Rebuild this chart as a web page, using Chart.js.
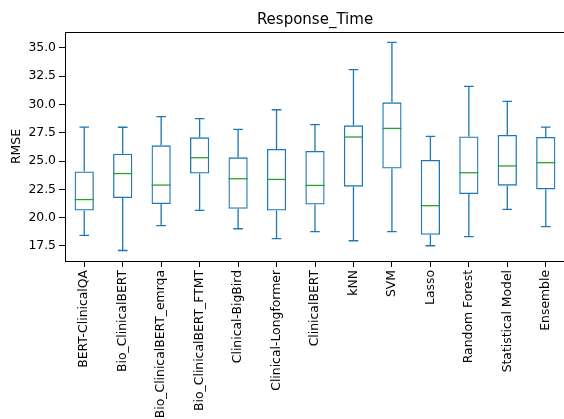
<!DOCTYPE html>
<html>
<head>
<meta charset="utf-8">
<script src="https://cdn.jsdelivr.net/npm/chart.js@4"></script>
<style>
  html, body { margin: 0; padding: 0; background: #fff; overflow: hidden; }
  #wrap { width: 580px; height: 419px; }
</style>
</head>
<body>
<div id="wrap"><canvas id="boxChart" width="580" height="419"></canvas></div>
<script>
// ====================================
// DATA
// ====================================
const categories = [
  "BERT-ClinicalQA", "Bio_ClinicalBERT", "Bio_ClinicalBERT_emrqa", "Bio_ClinicalBERT_FTMT",
  "Clinical-BigBird", "Clinical-Longformer", "ClinicalBERT", "kNN", "SVM", "Lasso",
  "Random Forest", "Statistical Model", "Ensemble"
];
const whiskerLow  = [18.43, 17.10, 19.29, 20.64, 19.02, 18.14, 18.76, 17.96, 18.76, 17.52, 18.32, 20.73, 19.20];
const quart1      = [20.64, 21.74, 21.20, 23.91, 20.79, 20.64, 21.17, 22.74, 24.35, 18.49, 22.09, 22.83, 22.50];
const medians     = [21.60, 23.90, 22.88, 25.30, 23.44, 23.38, 22.85, 27.13, 27.89, 21.06, 23.97, 24.57, 24.86];
const quart3      = [24.09, 25.65, 26.39, 27.10, 25.33, 26.07, 25.89, 28.16, 30.19, 25.10, 27.18, 27.30, 27.13];
const whiskerHigh = [28.00, 27.99, 28.93, 28.75, 27.80, 29.54, 28.22, 33.08, 35.50, 27.18, 31.60, 30.28, 28.01];
const yTicks = [17.5, 20.0, 22.5, 25.0, 27.5, 30.0, 32.5, 35.0];

const BLUE = "#1f77b4";
const GREEN = "#2ca02c";

// ====================================
// WHISKERS, MEDIANS, SPINES
// ====================================
const boxExtras = {
  id: "boxExtras",
  afterDatasetsDraw(chart) {
    const ctx = chart.ctx;
    const x = chart.scales.x;
    const y = chart.scales.y;
    const step = x.getPixelForValue(1) - x.getPixelForValue(0);
    const half = step * 0.25;
    const cap = step * 0.125;
    ctx.save();
    ctx.lineWidth = 1.3;
    categories.forEach(function (c, i) {
      const cx = x.getPixelForValue(i);
      ctx.strokeStyle = BLUE;
      ctx.beginPath();
      ctx.moveTo(cx, y.getPixelForValue(quart3[i]));
      ctx.lineTo(cx, y.getPixelForValue(whiskerHigh[i]));
      ctx.moveTo(cx, y.getPixelForValue(quart1[i]));
      ctx.lineTo(cx, y.getPixelForValue(whiskerLow[i]));
      ctx.moveTo(cx - cap, y.getPixelForValue(whiskerHigh[i]));
      ctx.lineTo(cx + cap, y.getPixelForValue(whiskerHigh[i]));
      ctx.moveTo(cx - cap, y.getPixelForValue(whiskerLow[i]));
      ctx.lineTo(cx + cap, y.getPixelForValue(whiskerLow[i]));
      ctx.stroke();

      ctx.strokeStyle = GREEN;
      ctx.beginPath();
      ctx.moveTo(cx - half, y.getPixelForValue(medians[i]));
      ctx.lineTo(cx + half, y.getPixelForValue(medians[i]));
      ctx.stroke();
    });

    // top and right spines
    const a = chart.chartArea;
    ctx.strokeStyle = "#000";
    ctx.lineWidth = 1;
    ctx.beginPath();
    ctx.moveTo(a.left, a.top + 0.5);
    ctx.lineTo(a.right, a.top + 0.5);
    ctx.moveTo(a.right - 0.5, a.top);
    ctx.lineTo(a.right - 0.5, a.bottom);
    ctx.stroke();
    ctx.restore();
  }
};

// ====================================
// CHART
// ====================================
const tickFont = { family: "DejaVu Sans", size: 12.4 };

new Chart(document.getElementById("boxChart"), {
  type: "bar",
  data: {
    labels: categories,
    datasets: [
      {
        label: "Response_Time",
        data: quart1.map(function (q, i) { return [q, quart3[i]]; }),
        backgroundColor: "rgba(0,0,0,0)",
        borderColor: BLUE,
        borderWidth: 1.3,
        borderSkipped: false,
        barPercentage: 0.5,
        categoryPercentage: 1.0,
      },
    ],
  },
  options: {
    responsive: false,
    animation: false,
    layout: { padding: { left: 0, right: 15, top: 0, bottom: 0 } },
    plugins: {
      legend: { display: false },
      tooltip: { enabled: false },
      title: {
        display: true,
        text: "Response_Time",
        fullSize: false,
        color: "#000",
        font: { family: "DejaVu Sans", size: 15, weight: "normal" },
        padding: { top: 11, bottom: 3 },
      },
    },
    scales: {
      x: {
        grid: { display: true, drawOnChartArea: false, offset: false, color: "#000", tickLength: 6 },
        border: { color: "#000", width: 1 },
        ticks: { color: "#000", font: tickFont, minRotation: 90, maxRotation: 90, padding: 3, autoSkip: false },
        afterFit: function (scale) { scale.height = 158; },
      },
      y: {
        min: 16.17,
        max: 36.41,
        grid: { display: true, drawOnChartArea: false, color: "#000", tickLength: 6 },
        border: { color: "#000", width: 1 },
        ticks: {
          color: "#000",
          font: tickFont,
          padding: 3,
          callback: function (v) { return v.toFixed(1); },
        },
        afterBuildTicks: function (scale) {
          scale.ticks = yTicks.map(function (v) { return { value: v }; });
        },
        afterFit: function (scale) { scale.width = 65; },
        title: {
          display: true,
          text: "RMSE",
          color: "#000",
          font: { family: "DejaVu Sans", size: 12.4 },
          padding: { top: 9, bottom: 0 },
        },
      },
    },
  },
  plugins: [boxExtras],
});
</script>
</body>
</html>
